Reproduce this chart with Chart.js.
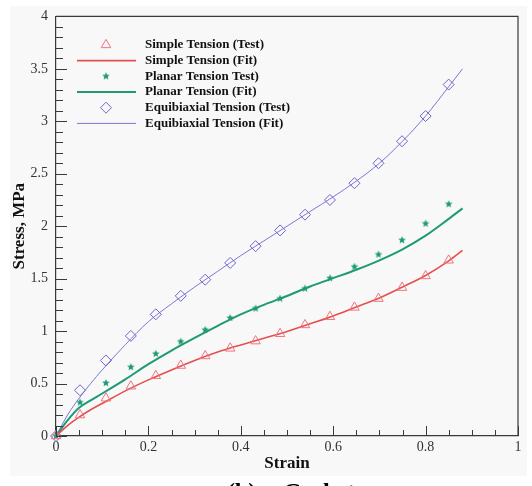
<!DOCTYPE html>
<html>
<head>
<meta charset="utf-8">
<script src="https://cdn.jsdelivr.net/npm/chart.js@4.4.0/dist/chart.umd.min.js"></script>
<style>
  html, body { margin: 0; padding: 0; background: #fff; }
  #wrap { width: 532px; height: 486px; }
</style>
</head>
<body>
<div id="wrap"><canvas id="stressChart" width="532" height="486"></canvas></div>
<script>
// measured points
var testStrain = [0, 0.052, 0.108, 0.162, 0.216, 0.27, 0.323, 0.377, 0.432, 0.485, 0.539, 0.593, 0.646, 0.698, 0.749, 0.8, 0.85];
var simpleTest = [0, 0.2, 0.36, 0.474, 0.574, 0.672, 0.763, 0.836, 0.905, 0.975, 1.059, 1.137, 1.226, 1.31, 1.415, 1.526, 1.675];
var planarTest = [0, 0.32, 0.505, 0.657, 0.784, 0.9, 1.012, 1.125, 1.216, 1.31, 1.406, 1.504, 1.614, 1.73, 1.867, 2.025, 2.21];
var equiTest   = [0, 0.436, 0.72, 0.954, 1.16, 1.336, 1.49, 1.65, 1.81, 1.96, 2.11, 2.25, 2.41, 2.6, 2.81, 3.05, 3.35];

// fitted curves
var fitStrain = [0, 0.025, 0.05, 0.075, 0.1, 0.15, 0.2, 0.25, 0.3, 0.35, 0.4, 0.45, 0.5, 0.55, 0.6, 0.65, 0.7, 0.75, 0.8, 0.85, 0.88];
var simpleFit = [0, 0.1, 0.18, 0.25, 0.31, 0.43, 0.535, 0.63, 0.72, 0.8, 0.868, 0.932, 0.996, 1.07, 1.145, 1.23, 1.315, 1.42, 1.53, 1.67, 1.77];
var planarFit = [0, 0.15, 0.27, 0.34, 0.405, 0.54, 0.685, 0.815, 0.935, 1.05, 1.16, 1.25, 1.335, 1.425, 1.505, 1.585, 1.675, 1.78, 1.91, 2.07, 2.17];
var equiFit   = [0, 0.2, 0.36, 0.5, 0.63, 0.87, 1.09, 1.26, 1.42, 1.57, 1.72, 1.86, 2.0, 2.14, 2.28, 2.43, 2.6, 2.81, 3.05, 3.33, 3.5];

var seriesNames = ['Simple Tension (Test)', 'Simple Tension (Fit)', 'Planar Tension Test)',
                   'Planar Tension (Fit)', 'Equibiaxial Tension (Test)', 'Equibiaxial Tension (Fit)'];

var xTickLabels = { min: 0, max: 1, step: 0.2, minor: 0.05 };
var yTickLabels = { min: 0, max: 4, step: 0.5, minor: 0.1 };

function pts(xs, ys) {
    return xs.map(function (x, i) { return { x: x, y: ys[i] }; });
}

// "0.5", "1", "1.5" ... no trailing zeros
function shortNum(v) {
    return String(+(+v).toFixed(2));
}

// small filled star used as marker
function starMark(color, r) {
    var c = document.createElement('canvas');
    var s = Math.ceil(r * 2) + 2;
    c.width = c.height = s;
    var g = c.getContext('2d');
    g.fillStyle = color;
    g.beginPath();
    for (var i = 0; i < 10; i++) {
        var rr = i % 2 ? r * 0.45 : r;
        var a = -Math.PI / 2 + i * Math.PI / 5;
        g.lineTo(s / 2 + rr * Math.cos(a), s / 2 + rr * Math.sin(a));
    }
    g.closePath();
    g.fill();
    return c;
}

var red = '#e4504e', pink = '#ee7480', green = '#1e9a74', blue = '#7d75d8', violet = '#6f66cc';
var serif = "'Liberation Serif', 'Times New Roman', serif";

var frame = {
    id: 'frame',
    beforeDraw: function (chart) {
        var c = chart.ctx;
        c.save();
        c.fillStyle = '#ffffff';
        c.fillRect(0, 0, chart.width, chart.height);
        c.fillStyle = '#f8f8f8';
        c.fillRect(10, 6, 517, 470);
        c.restore();
    },
    afterDraw: function (chart) {
        var c = chart.ctx, a = chart.chartArea;
        var xs = chart.scales.x, ys = chart.scales.y;
        c.save();
        c.strokeStyle = '#3a3a3a';
        c.lineWidth = 1.2;
        c.beginPath();
        c.moveTo(a.left, a.top); c.lineTo(a.right, a.top); c.lineTo(a.right, a.bottom);
        c.stroke();

        // inward tick marks, major + minor
        c.lineWidth = 1;
        c.beginPath();
        var n = Math.round((xTickLabels.max - xTickLabels.min) / xTickLabels.minor);
        for (var i = 0; i <= n; i++) {
            var v = xTickLabels.min + i * xTickLabels.minor;
            var major = Math.abs(v / xTickLabels.step - Math.round(v / xTickLabels.step)) < 1e-6;
            var px = Math.round(xs.getPixelForValue(v)) + 0.5;
            c.moveTo(px, a.bottom);
            c.lineTo(px, a.bottom - (major ? 10 : 6));
        }
        n = Math.round((yTickLabels.max - yTickLabels.min) / yTickLabels.minor);
        for (i = 0; i <= n; i++) {
            v = yTickLabels.min + i * yTickLabels.minor;
            major = Math.abs(v / yTickLabels.step - Math.round(v / yTickLabels.step)) < 1e-6;
            var py = Math.round(ys.getPixelForValue(v)) + 0.5;
            c.moveTo(a.left, py);
            c.lineTo(a.left + (major ? 11 : 7), py);
        }
        c.stroke();

        // legend in the upper left corner
        c.font = 'bold 13px ' + serif;
        c.textBaseline = 'middle';
        c.fillStyle = '#111';
        chart.data.datasets.forEach(function (ds, k) {
            var y = a.top + 28.5 + k * 15.7;
            if (ds.showLine === false) {
                c.save();
                c.strokeStyle = ds.borderColor;
                c.fillStyle = 'rgba(0,0,0,0)';
                c.lineWidth = ds.pointBorderWidth || 1;
                Chart.helpers.drawPoint(c, { pointStyle: ds.pointStyle, radius: ds.pointRadius, rotation: 0, borderWidth: c.lineWidth }, 106, y);
                c.restore();
            } else {
                c.save();
                c.strokeStyle = ds.borderColor;
                c.lineWidth = ds.borderWidth;
                c.beginPath();
                c.moveTo(77, y); c.lineTo(136, y);
                c.stroke();
                c.restore();
            }
            c.fillText(ds.label, 145, y);
        });

        // figure caption, cut by the lower edge
        c.font = 'bold 24px ' + serif;
        c.textBaseline = 'alphabetic';
        c.textAlign = 'left';
        c.fillStyle = '#000';
        c.fillText('(b)', 227, 499);
        c.fillText('Gasket', 283, 499);
        c.restore();
    }
};

var ctx = document.getElementById('stressChart');
new Chart(ctx, {
    type: 'line',
    data: {
        datasets: [
            { label: seriesNames[0], data: pts(testStrain, simpleTest), showLine: false, clip: false,
              pointStyle: 'triangle', pointRadius: 5.5, pointBorderWidth: 1, borderColor: pink, pointBackgroundColor: 'rgba(0,0,0,0)' },
            { label: seriesNames[1], data: pts(fitStrain, simpleFit), borderColor: red, borderWidth: 1.6,
              pointRadius: 0, cubicInterpolationMode: 'monotone' },
            { label: seriesNames[2], data: pts(testStrain, planarTest), showLine: false, clip: false,
              pointStyle: starMark(green, 4), pointRadius: 4, borderColor: green },
            { label: seriesNames[3], data: pts(fitStrain, planarFit), borderColor: green, borderWidth: 2,
              pointRadius: 0, cubicInterpolationMode: 'monotone' },
            { label: seriesNames[4], data: pts(testStrain, equiTest), showLine: false, clip: false,
              pointStyle: 'rectRot', pointRadius: 5.5, pointBorderWidth: 1, borderColor: violet, pointBackgroundColor: 'rgba(0,0,0,0)' },
            { label: seriesNames[5], data: pts(fitStrain, equiFit), borderColor: blue, borderWidth: 1,
              pointRadius: 0, cubicInterpolationMode: 'monotone' }
        ]
    },
    options: {
        responsive: false,
        animation: false,
        layout: { padding: { top: 14, right: 14, left: 0, bottom: 0 } },
        plugins: { legend: { display: false }, tooltip: { enabled: false } },
        scales: {
            x: {
                type: 'linear', min: xTickLabels.min, max: xTickLabels.max,
                ticks: { stepSize: xTickLabels.step, padding: 3, color: '#333', font: { family: serif, size: 14 }, maxRotation: 0, callback: shortNum },
                grid: { display: false, drawTicks: false },
                border: { display: true, color: '#3a3a3a', width: 1.2 },
                title: { display: true, text: 'Strain', color: '#111', font: { family: serif, size: 17, weight: 'bold' }, padding: { top: 0, bottom: 12 } },
                afterFit: function (s) { s.height = 50; }
            },
            y: {
                type: 'linear', min: yTickLabels.min, max: yTickLabels.max,
                ticks: { stepSize: yTickLabels.step, padding: 8, color: '#333', font: { family: serif, size: 14 }, callback: shortNum },
                grid: { display: false, drawTicks: false },
                border: { display: true, color: '#3a3a3a', width: 1.2 },
                title: { display: true, text: 'Stress, MPa', color: '#111', font: { family: serif, size: 17, weight: 'bold' }, padding: { top: 9, bottom: 0 } },
                afterFit: function (s) { s.width = 56; }
            }
        }
    },
    plugins: [frame]
});
</script>
</body>
</html>
